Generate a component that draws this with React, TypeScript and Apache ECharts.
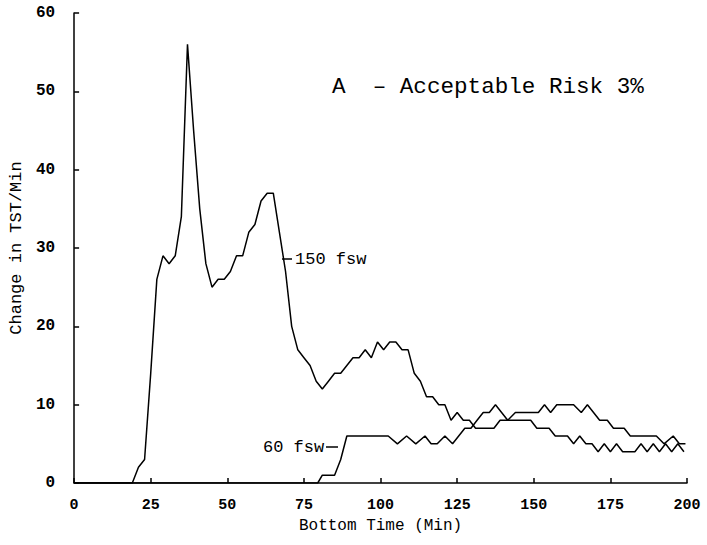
import React, { useEffect, useRef } from "react";
import * as echarts from "echarts";

// Bottom time (min) and change in TST per minute, 150 fsw
const time150 = [
  0, 19, 21, 23, 25, 27, 29, 31, 33, 35, 37, 39, 41, 43, 45, 47, 49, 51, 53, 55,
  57, 59, 61, 63, 65, 67, 69, 71, 73, 75, 77, 79, 81, 83, 85, 87, 89, 91, 93, 95,
  97, 99, 101, 103, 105, 107, 109, 111, 113, 115, 117, 119, 121, 123, 125, 127,
  129, 131, 133, 135, 137, 139, 141, 143, 145, 147, 149, 151, 153, 155, 157, 159,
  161, 163, 165, 167, 169, 171, 173, 175, 177, 179, 181, 183, 185, 187, 189, 191,
  193, 195, 197, 199,
];
const value150 = [
  0, 0, 2, 3, 14, 26, 29, 28, 29, 34, 56, 45, 35, 28, 25, 26, 26, 27, 29, 29,
  32, 33, 36, 37, 37, 32, 27, 20, 17, 16, 15, 13, 12, 13, 14, 14, 15, 16, 16, 17,
  16, 18, 17, 18, 18, 17, 17, 14, 13, 11, 11, 10, 10, 8, 9, 8,
  8, 7, 7, 7, 7, 8, 8, 8, 8, 8, 8, 7, 7, 7, 6, 6,
  6, 5, 6, 5, 5, 4, 5, 4, 5, 4, 4, 4, 5, 4, 5, 4,
  5, 4, 5, 4,
];

// 60 fsw
const time60 = [
  0, 79.5, 81, 85, 87, 89, 102.5, 105.5, 108.5, 111.5, 114.5, 116.5, 118.5, 121,
  123.5, 127.5, 129.5, 131.5, 133.5, 135.5, 137.5, 139.5, 141.5, 144, 151.5, 153.5,
  155.5, 157.5, 163, 165.5, 167.5, 169.5, 171.5, 174, 176, 179.5, 181.5, 190, 192.5,
  195.5, 197.5, 199.5,
];
const value60 = [
  0, 0, 1, 1, 3, 6, 6, 5, 6, 5, 6, 5, 5, 6,
  5, 7, 7, 8, 9, 9, 10, 9, 8, 9, 9, 10,
  9, 10, 10, 9, 10, 9, 8, 8, 7, 7, 6, 6, 5,
  6, 5, 5,
];

const seriesNames = ["150 fsw", "60 fsw"];
const titleText = "A  \u2013 Acceptable Risk 3%";
const xAxisName = "Bottom Time (Min)";
const yAxisName = "Change in TST/Min";

const FONT = "'Liberation Mono', 'Courier New', 'DejaVu Sans Mono', monospace";

export default function App() {
  const ref = useRef<HTMLDivElement>(null);

  useEffect(() => {
    const chart = echarts.init(ref.current as HTMLDivElement, null, { renderer: "svg" });
    const lineStyle = { color: "#000", width: 1.5 };
    const axisCommon = {
      axisLine: { show: true, lineStyle: { color: "#000", width: 1.5 } },
      axisTick: { show: true, inside: true, length: 5, lineStyle: { color: "#000", width: 1.5 } },
      splitLine: { show: false },
    };
    chart.setOption({
      animation: false,
      backgroundColor: "#fff",
      grid: { left: 71, right: 20, top: 13, bottom: 62 },
      xAxis: {
        type: "value",
        min: 0,
        max: 200,
        interval: 25,
        ...axisCommon,
        axisLabel: { color: "#000", fontFamily: FONT, fontWeight: "bold", fontSize: 15, margin: 15 },
        name: xAxisName,
        nameLocation: "middle",
        nameGap: 31,
        nameTextStyle: { color: "#000", fontFamily: FONT, fontSize: 16 },
      },
      yAxis: {
        type: "value",
        min: 0,
        max: 60,
        interval: 10,
        ...axisCommon,
        axisLabel: { color: "#000", fontFamily: FONT, fontWeight: "bold", fontSize: 16, margin: 19 },
        name: yAxisName,
        nameLocation: "middle",
        nameGap: 40,
        nameTextStyle: { color: "#000", fontFamily: FONT, fontSize: 17 },
      },
      series: [
        {
          name: seriesNames[0],
          type: "line",
          data: time150.map((t, i) => [t, value150[i]]),
          showSymbol: false,
          lineStyle,
          itemStyle: { color: "#000" },
        },
        {
          name: seriesNames[1],
          type: "line",
          data: time60.map((t, i) => [t, value60[i]]),
          showSymbol: false,
          lineStyle,
          itemStyle: { color: "#000" },
        },
      ],
      graphic: [
        {
          type: "text",
          x: 332,
          y: 87,
          style: { text: titleText, fontFamily: FONT, fontSize: 22.6, fill: "#000", verticalAlign: "middle" },
        },
        {
          type: "line",
          shape: { x1: 282, y1: 259, x2: 292, y2: 259 },
          style: { stroke: "#000", lineWidth: 1.5 },
        },
        {
          type: "text",
          x: 295,
          y: 259,
          style: { text: seriesNames[0], fontFamily: FONT, fontSize: 17, fill: "#000", verticalAlign: "middle" },
        },
        {
          type: "text",
          x: 263,
          y: 447,
          style: { text: seriesNames[1], fontFamily: FONT, fontSize: 17, fill: "#000", verticalAlign: "middle" },
        },
        {
          type: "line",
          shape: { x1: 326, y1: 447, x2: 338, y2: 447 },
          style: { stroke: "#000", lineWidth: 1.5 },
        },
      ],
    });
    return () => chart.dispose();
  }, []);

  return (
    <div
      ref={ref}
      style={{ position: "absolute", left: 0, top: 0, width: 707, height: 545, background: "#fff" }}
    />
  );
}
